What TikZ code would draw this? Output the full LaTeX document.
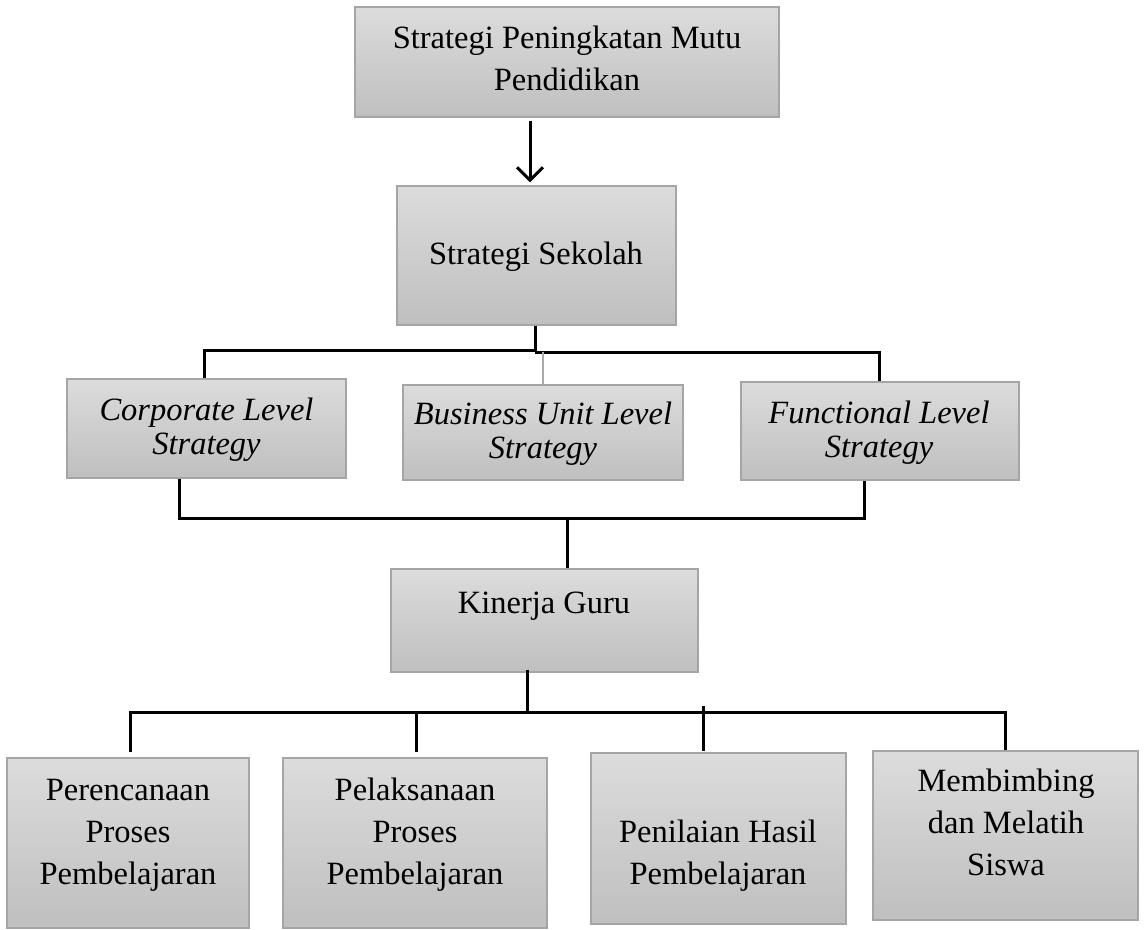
\documentclass[tikz,border=0pt]{standalone}
\usepackage{fontspec}
\setmainfont{Liberation Serif}
\usetikzlibrary{arrows.meta,calc}
\definecolor{boxtop}{RGB}{220,220,220}
\definecolor{boxbot}{RGB}{191,191,191}
\definecolor{boxline}{RGB}{165,165,165}
\definecolor{thinline}{RGB}{170,170,170}
\begin{document}
\begin{tikzpicture}[x=1pt,y=-1pt,
  box/.style={draw=boxline, line width=1.2pt, top color=boxtop, bottom color=boxbot, rectangle, inner sep=0pt},
  txt/.style={align=center, inner sep=0pt, font=\fontsize{32.5}{42}\selectfont},
  itxt/.style={align=center, inner sep=0pt, font=\fontsize{32.5}{34}\selectfont\itshape},
  conn/.style={line width=3pt, black},
  thinconn/.style={line width=1.5pt, thinline},
  arr/.style={conn, -{Straight Barb[length=13pt,width=26pt,line width=3pt]}}]
\useasboundingbox (0,0) rectangle (1145,929);
\fill[white] (0,0) rectangle (1145,929);

% boxes
\node[box, minimum width=424pt, minimum height=110pt] (top) at (567,62) {};
\node[box, minimum width=279pt, minimum height=139pt] (ss) at (536.5,255.5) {};
\node[box, minimum width=279pt, minimum height=99pt] (corp) at (206.5,428.5) {};
\node[box, minimum width=280pt, minimum height=95pt] (bus) at (543,432.5) {};
\node[box, minimum width=278pt, minimum height=98pt] (func) at (880,431) {};
\node[box, minimum width=307pt, minimum height=103pt] (kin) at (544.5,620.5) {};
\node[box, minimum width=242pt, minimum height=170pt] (per) at (128,843) {};
\node[box, minimum width=264pt, minimum height=170pt] (pel) at (415,843) {};
\node[box, minimum width=255pt, minimum height=171pt] (pen) at (718.5,838.5) {};
\node[box, minimum width=265pt, minimum height=169pt] (mem) at (1005.5,835.5) {};

% texts
\node[txt] (topT) at (567,58) {Strategi Peningkatan Mutu\\Pendidikan};
\node[txt] (ssT) at (536,257) {Strategi Sekolah};
\node[itxt] (corpT) at (206.5,430) {Corporate Level\\Strategy};
\node[itxt] (busT) at (543,434) {Business Unit Level\\Strategy};
\node[itxt] (funcT) at (879,433) {Functional Level\\Strategy};
\node[txt] (kinT) at (544,606) {Kinerja Guru};
\node[txt] (perT) at (128,835) {Perencanaan\\Proses\\Pembelajaran};
\node[txt] (pelT) at (415,835) {Pelaksanaan\\Proses\\Pembelajaran};
\node[txt] (penT) at (718,856) {Penilaian Hasil\\Pembelajaran};
\node[txt] (memT) at (1006,822) {Membimbing\\dan Melatih\\Siswa};

% helper coordinates
\coordinate (xa) at (530,0);
\coordinate (j1) at (535,350);
\coordinate (j2) at (535,352);
\coordinate (x204) at (204,0);
\coordinate (x879) at (879,0);
\coordinate (x179) at (179,0);
\coordinate (x864) at (864,0);
\coordinate (x567) at (567,0);
\coordinate (b1) at (0,518);
\coordinate (x527) at (527,0);
\coordinate (h) at (0,712);
\coordinate (x130) at (130,0);
\coordinate (x416) at (416,0);
\coordinate (x703) at (703,0);
\coordinate (x1005) at (1005,0);

% arrow
\draw[arr, shorten <=3pt, shorten >=3pt] (top.south -| xa) -- (ss.north -| xa);

% upper connectors
\draw[conn] (ss.south -| j1) -- (j1) -| (corp.north -| x204);
\draw[conn] (j2) -| (func.north -| x879);
\draw[thinconn] (bus.north) -- (bus.north |- j2);

% middle connectors
\draw[conn] (corp.south -| x179) |- (b1 -| x864) -- (func.south -| x864);
\draw[conn] (b1 -| x567) -- (kin.north -| x567);

% lower connectors
\draw[conn] ($(kin.south -| x527)+(0,-3)$) -- ($(h -| x527)+(0,2)$);
\draw[conn] ($(per.north -| x130)+(0,-5)$) |- (h -| x1005) -- (mem.north -| x1005);
\draw[conn] (h -| x416) -- ($(pel.north -| x416)+(0,-5)$);
\draw[conn] ($(h -| x703)+(0,-6)$) -- ($(pen.north -| x703)+(0,-1)$);
\end{tikzpicture}
\end{document}
